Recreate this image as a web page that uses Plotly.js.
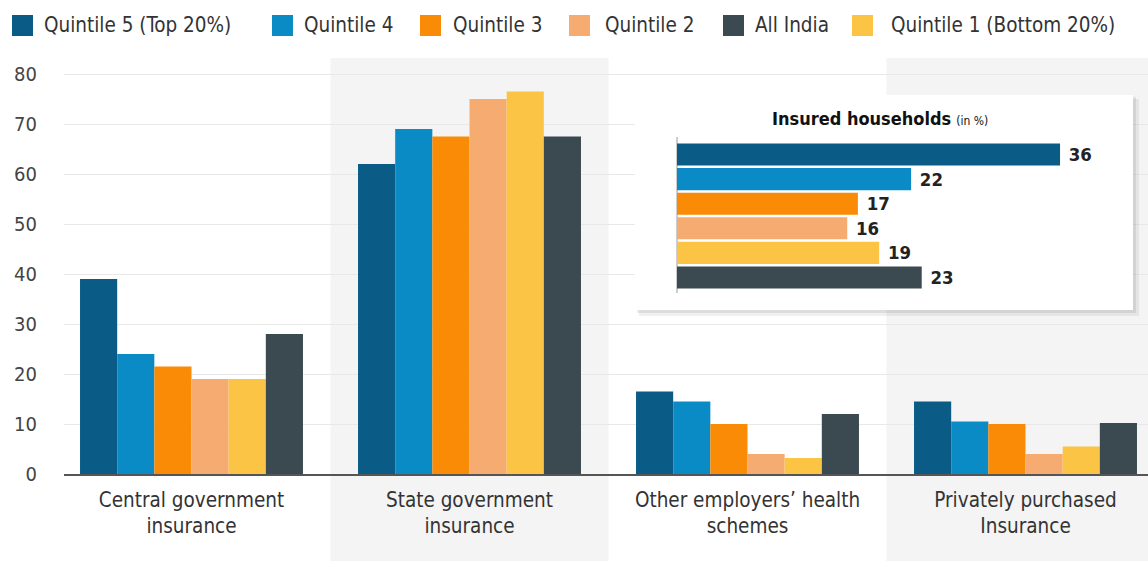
<!DOCTYPE html>
<html>
<head>
<meta charset="utf-8">
<script src="https://cdn.plot.ly/plotly-3.0.1.min.js"></script>
<style>html,body{margin:0;padding:0;background:#fff;}#chart{width:1148px;height:561px;}</style>
</head>
<body>
<div id="chart"></div>
<script>
// ---- data ----
var categories = ["Central government<br>insurance", "State government<br>insurance", "Other employers\u2019 health<br>schemes", "Privately purchased<br>Insurance"];
var seriesNames = ["Quintile 5 (Top 20%)", "Quintile 4", "Quintile 3", "Quintile 2", "Quintile 1 (Bottom 20%)", "All India"];
var q5 = [39, 62, 16.5, 14.5];
var q4 = [24, 69, 14.5, 10.5];
var q3 = [21.5, 67.5, 10, 10];
var q2 = [19, 75, 4, 4];
var q1 = [19, 76.5, 3.2, 5.5];
var allIndia = [28, 67.5, 12, 10.2];
var insuredGroups = ["Quintile 5 (Top 20%)", "Quintile 4", "Quintile 3", "Quintile 2", "Quintile 1 (Bottom 20%)", "All India"];
var insuredValues = [36, 22, 17, 16, 19, 23];
var yTicks = [0, 10, 20, 30, 40, 50, 60, 70, 80];
var legendOrder = ["Quintile 5 (Top 20%)", "Quintile 4", "Quintile 3", "Quintile 2", "All India", "Quintile 1 (Bottom 20%)"];

// ---- style ----
var FONT = '"Liberation Sans Narrow", "DejaVu Sans Condensed", "Arial Narrow", sans-serif';
var colors = {
  "Quintile 5 (Top 20%)": "#0a5c87",
  "Quintile 4": "#0b8bc6",
  "Quintile 3": "#f98b06",
  "Quintile 2": "#f6ac70",
  "Quintile 1 (Bottom 20%)": "#fbc444",
  "All India": "#3b4a50"
};
var W = 1148, H = 561, L = 64, T = 65, B = 87;
var plotW = W - L, plotH = H - T - B;

var seriesData = [q5, q4, q3, q2, q1, allIndia];
var traces = seriesNames.map(function (name, i) {
  return {
    type: "bar", name: name, x: categories, y: seriesData[i],
    marker: { color: colors[name], line: { width: 0 } },
    showlegend: false, hoverinfo: "skip"
  };
});

// inset mapping (pixels)
var insetDom = { x0: 635, x1: 1140, y0: 95, y1: 317 };
var insetZeroPx = 677, insetPxPerUnit = 10.64;
var insetCat0Px = 154.5, insetCatStep = 24.6;
function px2x2(px) { return (px - insetZeroPx) / insetPxPerUnit; }
function px2y2(py) { return (py - insetCat0Px) / insetCatStep; }

traces.push({
  type: "bar", orientation: "h", x: insuredValues, y: insuredGroups,
  xaxis: "x2", yaxis: "y2", width: 0.9,
  marker: { color: insuredGroups.map(function (g) { return colors[g]; }), line: { width: 0 } },
  text: insuredValues.map(String), texttemplate: " %{text}", textposition: "outside",
  textfont: { family: FONT, size: 20, color: "#222", weight: 700 },
  cliponaxis: false, showlegend: false, hoverinfo: "skip"
});

var shapes = [];
// shaded category bands
shapes.push({ type: "rect", xref: "x", yref: "paper", x0: 0.5, x1: 1.5, y0: -B / plotH, y1: (H - B - 58) / plotH, fillcolor: "#f4f4f4", line: { width: 0 }, layer: "below" });
shapes.push({ type: "rect", xref: "x", yref: "paper", x0: 2.5, x1: 3.7, y0: -B / plotH, y1: (H - B - 58) / plotH, fillcolor: "#f4f4f4", line: { width: 0 }, layer: "below" });
// inset box with shadow
shapes.push({ type: "rect", xref: "x2", yref: "y2", x0: px2x2(639), x1: px2x2(1139), y0: px2y2(99), y1: px2y2(316), fillcolor: "rgba(0,0,0,0.06)", line: { width: 0 }, layer: "between" });
shapes.push({ type: "rect", xref: "x2", yref: "y2", x0: px2x2(637), x1: px2x2(1136), y0: px2y2(97), y1: px2y2(313), fillcolor: "rgba(0,0,0,0.08)", line: { width: 0 }, layer: "between" });
shapes.push({ type: "rect", xref: "x2", yref: "y2", x0: px2x2(635), x1: px2x2(1133), y0: px2y2(95), y1: px2y2(310), fillcolor: "#ffffff", line: { width: 0 }, layer: "between" });
shapes.push({ type: "line", xref: "x2", yref: "y2", x0: 0, x1: 0, y0: px2y2(137), y1: px2y2(293), line: { color: "#9a9a9a", width: 1 }, layer: "between" });

// custom legend
var legendPos = [
  { sq: 12, tx: 42 }, { sq: 272, tx: 302 }, { sq: 420, tx: 451 },
  { sq: 569, tx: 603 }, { sq: 723, tx: 753 }, { sq: 852, tx: 889 }
];
var annotations = [];
legendOrder.forEach(function (name, i) {
  var p = legendPos[i];
  shapes.push({ type: "rect", xref: "paper", yref: "paper",
    x0: (p.sq - L) / plotW, x1: (p.sq + 21 - L) / plotW,
    y0: (H - B - 36) / plotH, y1: (H - B - 15) / plotH,
    fillcolor: colors[name], line: { width: 0 }, layer: "above" });
  annotations.push({ xref: "paper", yref: "paper", x: (p.tx - L) / plotW, y: (H - B - 25) / plotH,
    xanchor: "left", yanchor: "middle", showarrow: false, text: name,
    font: { family: FONT, size: 20.5, color: "#333" } });
});
annotations.push({ xref: "paper", yref: "paper", x: (880 - L) / plotW, y: (H - B - 118) / plotH,
  xanchor: "center", yanchor: "middle", showarrow: false,
  text: "<b>Insured households</b> <span style=\"font-size:12px\">(in %)</span>",
  font: { family: FONT, size: 18, color: "#111" } });

var layout = {
  width: W, height: H,
  margin: { l: L, r: 0, t: T, b: B, pad: 0 },
  paper_bgcolor: "#ffffff", plot_bgcolor: "rgba(0,0,0,0)",
  barmode: "group", bargap: 0.198, bargroupgap: 0,
  showlegend: false,
  xaxis: {
    type: "category", range: [-(191.5 - L) / 278, -(191.5 - L) / 278 + plotW / 278],
    showgrid: false, zeroline: false, showline: true, linecolor: "#555", linewidth: 2,
    ticks: "", ticklabelstandoff: 6,
    tickfont: { family: FONT, size: 20.5, color: "#333" }, fixedrange: true
  },
  yaxis: {
    range: [0, plotH / 5], tickvals: yTicks, showgrid: true, gridcolor: "#e8e8e8", gridwidth: 1,
    zeroline: false, showline: false, ticks: "", ticklabelstandoff: 26,
    tickfont: { family: FONT, size: 20, color: "#444" }, fixedrange: true
  },
  xaxis2: {
    domain: [(insetDom.x0 - L) / plotW, (insetDom.x1 - L) / plotW],
    range: [px2x2(insetDom.x0), px2x2(insetDom.x1)], anchor: "y2", visible: false, fixedrange: true
  },
  yaxis2: {
    type: "category",
    domain: [(H - B - insetDom.y1) / plotH, (H - B - insetDom.y0) / plotH],
    range: [px2y2(insetDom.y1), px2y2(insetDom.y0)], anchor: "x2", visible: false, fixedrange: true
  },
  shapes: shapes,
  annotations: annotations
};

Plotly.newPlot("chart", traces, layout, { displayModeBar: false, staticPlot: true });
</script>
</body>
</html>
